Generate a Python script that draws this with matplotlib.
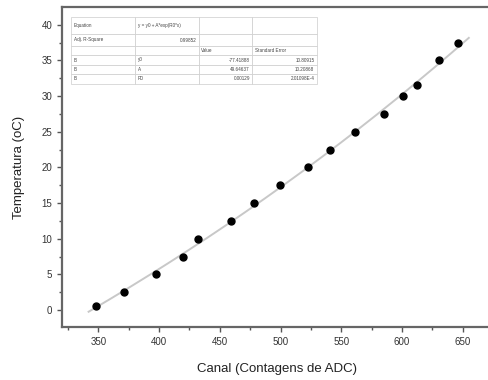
import numpy as np
import matplotlib
matplotlib.use("Agg")
import matplotlib.pyplot as plt
from matplotlib.ticker import MultipleLocator

plt.rcParams['font.family'] = ['Liberation Sans', 'DejaVu Sans']

# calibration points: ADC channel vs temperature
canal = [348, 371, 397.5, 419.5, 432, 459, 478, 499.5, 523, 541, 561, 585, 601, 612, 630.5, 646]
temperatura = [0.5, 2.5, 5, 7.5, 10, 12.5, 15, 17.5, 20, 22.5, 25, 27.5, 30, 31.5, 35, 37.5]

# exponential fit y = y0 + A*exp(R0*x)
y0 = -77.41888
A = 49.64637
R0 = 0.00129
erros = ["10.80915", "10.20868", "2.01098E-4"]
adj_r2 = "0.99852"

fig = plt.figure(figsize=(4.88, 3.8), dpi=100)
ax = fig.add_axes([62/488, 53/380, 430/488, 320/380])

xf = np.linspace(342, 655, 200)
ax.plot(xf, y0 + A*np.exp(R0*xf), color='#c8c8c8', lw=1.4, zorder=1)
ax.plot(canal, temperatura, 'o', color='black', ms=5, zorder=2)

ax.set_xlim(320.1, 674.1)
ax.set_ylim(-2.38, 42.48)
ax.xaxis.set_major_locator(MultipleLocator(50))
ax.xaxis.set_minor_locator(MultipleLocator(25))
ax.yaxis.set_major_locator(MultipleLocator(5))
ax.yaxis.set_minor_locator(MultipleLocator(2.5))
ax.tick_params(which='both', direction='out', color='#555555', width=1, labelsize=7,
               labelcolor='#333333', top=False, right=False)
ax.tick_params(which='major', length=3.5)
ax.tick_params(which='minor', length=2)
for s in ax.spines.values():
    s.set_color('#666666')
    s.set_linewidth(1.6)

ax.set_xlabel('Canal (Contagens de ADC)', fontsize=9.5, color='#222222', labelpad=12)
ax.set_ylabel('Temperatura (oC)', fontsize=9.5, color='#222222', labelpad=12)

# fit results table
cells = [
    ["Equation", "y = y0 + A*exp(R0*x)", "", ""],
    ["Adj. R-Square", adj_r2, "", ""],
    ["", "", "Value", "Standard Error"],
    ["B", "y0", "%.5f" % y0, erros[0]],
    ["B", "A", "%.5f" % A, erros[1]],
    ["B", "R0", "%.5f" % R0, erros[2]],
]
row_h = [17, 12, 9, 10, 9, 10]
x0, y1 = (71 - 62)/430, 1 - (17 - 7)/320
w, h = (317 - 71)/430, (84 - 17)/320
tb = ax.table(cellText=cells, bbox=[x0, y1 - h, w, h], cellLoc='left',
              colWidths=[64, 64, 53, 65])
tb.auto_set_font_size(False)
tb.set_fontsize(3.3)
for (r, c), cell in tb.get_celld().items():
    cell.set_edgecolor('#cccccc')
    cell.set_linewidth(0.5)
    cell.PAD = 0.04
    cell.set_height(row_h[r])
    if (r == 1 and c == 1) or (r >= 3 and c >= 2):
        cell.get_text().set_ha('right')
    cell.get_text().set_color('#444444')

fig.savefig('out.png', dpi=100)
